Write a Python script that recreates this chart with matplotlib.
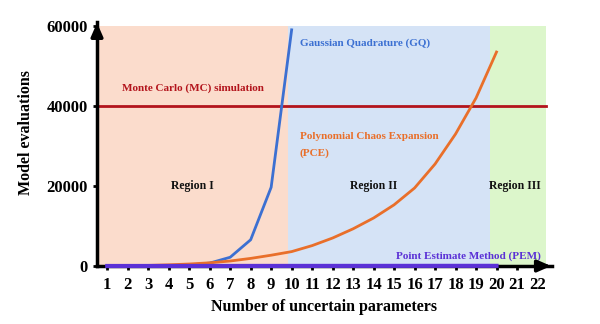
import numpy as np
import matplotlib.pyplot as plt

plt.rcParams['font.family'] = ['Liberation Serif', 'DejaVu Serif']
plt.rcParams['font.weight'] = 'bold'
plt.rcParams['axes.labelweight'] = 'bold'

# number of uncertain parameters
n_params = list(range(1, 23))

# model evaluations for each method
gq_n = [1, 2, 3, 4, 5, 6, 7, 8, 9, 10]
gq_evals = [3, 9, 27, 81, 243, 729, 2187, 6561, 19683, 59049]

pce_n = list(range(1, 21))
pce_evals = [20, 60, 150, 300, 500, 800, 1250, 1900, 2700, 3600,
             5100, 7000, 9300, 12000, 15300, 19500, 25500, 33000, 42000, 53500]

pem_n = list(range(1, 21))
pem_evals = [2 * n + 1 for n in pem_n]

mc_evals = 40000

# region boundaries along x
regions = [(0.5, 9.8, '#fbdccc', 'Region I', 5.15),
           (9.8, 19.7, '#d5e3f6', 'Region II', 14.0),
           (19.7, 22.4, '#dcf6cb', 'Region III', 20.9)]

fig = plt.figure(figsize=(6, 3.24), dpi=100)
ax = fig.add_axes([0.1617, 0.179, 0.758, 0.753])

for x0, x1, col, name, xt in regions:
    ax.fill_between([x0, x1], 0, 60000, color=col, linewidth=0, zorder=0)
    ax.text(xt, 20000, name, ha='center', va='center', fontsize=8.5,
            color='#111111', fontweight='bold')

ax.plot([0.5, 22.4], [mc_evals, mc_evals], color='#b3141c', lw=2, zorder=2)
ax.plot(gq_n, gq_evals, color='#3c70d2', lw=2, zorder=3)
ax.plot(pce_n, pce_evals, color='#e96f2a', lw=2, zorder=3)
ax.plot(pem_n, pem_evals, color='#5b31d6', lw=3, zorder=4, clip_on=False)

ax.text(1.7, 43800, 'Monte Carlo (MC) simulation', color='#b3141c', fontsize=8)
ax.text(10.4, 55000, 'Gaussian Quadrature (GQ)', color='#3c70d2', fontsize=8)
ax.text(10.4, 31800, 'Polynomial Chaos Expansion', color='#e96f2a', fontsize=8)
ax.text(10.4, 27600, '(PCE)', color='#e96f2a', fontsize=8)
ax.text(15.1, 1800, 'Point Estimate Method (PEM)', color='#5b31d6', fontsize=8)

ax.set_xlim(0.5, 22.7)
ax.set_ylim(0, 61000)
ax.set_xticks(n_params)
ax.set_yticks([0, 20000, 40000, 60000])
ax.tick_params(axis='both', labelsize=12, width=2, length=3, direction='out')
ax.tick_params(axis='x', pad=5)
for lab in ax.get_xticklabels() + ax.get_yticklabels():
    lab.set_fontweight('bold')

for side in ['top', 'right']:
    ax.spines[side].set_visible(False)
ax.spines['left'].set_linewidth(2.5)
ax.spines['bottom'].set_linewidth(2.5)

# arrow heads on both axes
ax.annotate('', xy=(22.8, 0), xytext=(22.0, 0),
            arrowprops=dict(arrowstyle='-|>,head_width=0.35,head_length=0.8',
                            color='black', lw=2.5), annotation_clip=False)
ax.annotate('', xy=(0.5, 61500), xytext=(0.5, 57000),
            arrowprops=dict(arrowstyle='-|>,head_width=0.35,head_length=0.8',
                            color='black', lw=2.5), annotation_clip=False)

ax.set_xlabel('Number of uncertain parameters', fontsize=11.5, labelpad=4)
ax.set_ylabel('Model evaluations', fontsize=11.5)
ax.yaxis.set_label_coords(-0.138, 0.545)

fig.savefig('out.png', dpi=100)
